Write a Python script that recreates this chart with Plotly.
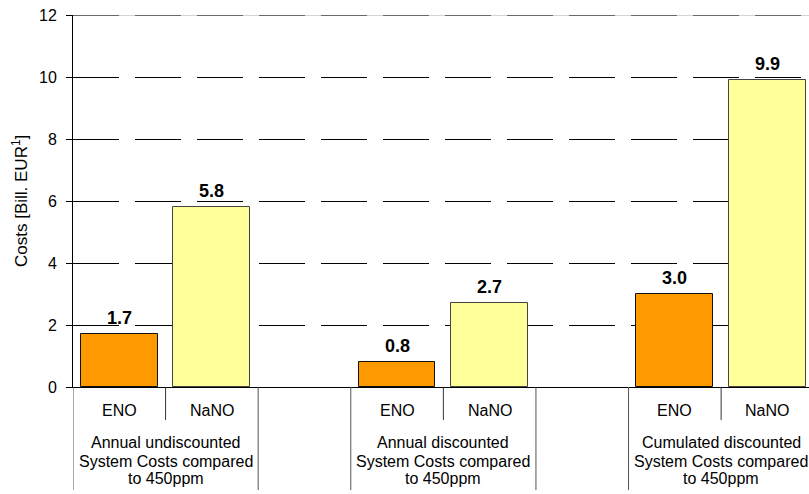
import plotly.graph_objects as go

# Cost comparison data (billion EUR)
groups = [
    ["Annual undiscounted", "System Costs compared", "to 450ppm"],
    ["Annual discounted", "System Costs compared", "to 450ppm"],
    ["Cumulated discounted", "System Costs compared", "to 450ppm"],
]
scenarios = ["ENO", "NaNO"]
eno_values = [1.7, 0.8, 3.0]
nano_values = [5.8, 2.7, 9.9]
y_ticks = [0, 2, 4, 6, 8, 10, 12]

ENO_COLOR = "#FF9900"
NANO_COLOR = "#FFFF99"
FONT = "Liberation Sans, Arial, sans-serif"
DASH = "46px,16px"

# each group occupies three slots: ENO, NaNO, and a spacer
eno_x = [3 * i for i in range(len(groups))]
nano_x = [3 * i + 1 for i in range(len(groups))]

fig = go.Figure()
fig.add_trace(go.Bar(
    x=eno_x, y=eno_values, width=0.83, name="ENO",
    marker=dict(color=ENO_COLOR, line=dict(color="#111111", width=1)),
))
fig.add_trace(go.Bar(
    x=nano_x, y=nano_values, width=0.83, name="NaNO",
    marker=dict(color=NANO_COLOR, line=dict(color="#444444", width=1)),
))

annotations = []
# value labels above bars
for xs, vals in ((eno_x, eno_values), (nano_x, nano_values)):
    for x, v in zip(xs, vals):
        annotations.append(dict(
            x=x, y=v, xref="x", yref="y", text=f"<b>{v:.1f}</b>",
            showarrow=False, yanchor="bottom", yshift=4,
            font=dict(family=FONT, size=18, color="#000000"),
        ))

# scenario and group labels under the axis
line_y = [-0.1505, -0.199, -0.247]
for gi, lines in enumerate(groups):
    for si, name in enumerate(scenarios):
        annotations.append(dict(
            x=3 * gi + si, y=-0.062, xref="x", yref="paper", text=name,
            showarrow=False, yanchor="middle",
            font=dict(family=FONT, size=16, color="#000000"),
        ))
    for ly, txt in zip(line_y, lines):
        annotations.append(dict(
            x=3 * gi + 0.5, y=ly, xref="x", yref="paper", text=txt,
            showarrow=False, yanchor="middle",
            font=dict(family=FONT, size=16, color="#000000"),
        ))

# y-axis title
annotations.append(dict(
    x=0, y=0.5, xref="paper", yref="paper", xshift=-53,
    text="Costs [Bill. EUR<sup>1</sup>]", textangle=-90, showarrow=False,
    xanchor="center", yanchor="middle",
    font=dict(family=FONT, size=17, color="#000000"),
))

# category divider lines below the axis
shapes = []
for b in [-0.5, 1.5, 2.5, 4.5, 5.5, 7.5]:
    shapes.append(dict(type="line", xref="x", yref="paper", x0=b, x1=b,
                       y0=0, y1=-0.277, line=dict(color="#555555", width=1)))
for b in [0.5, 3.5, 6.5]:
    shapes.append(dict(type="line", xref="x", yref="paper", x0=b, x1=b,
                       y0=0, y1=-0.089, line=dict(color="#333333", width=1)))
# top border: faint solid line with the dashed grid pattern on top
shapes.append(dict(type="line", xref="paper", yref="y", x0=0, x1=1, y0=12, y1=12,
                   line=dict(color="#aaaaaa", width=1)))
shapes.append(dict(type="line", xref="paper", yref="y", x0=0, x1=1, y0=12, y1=12,
                   line=dict(color="#000000", width=1, dash=DASH)))

fig.update_layout(
    width=809, height=494,
    margin=dict(l=73, r=0, t=15, b=107),
    paper_bgcolor="white", plot_bgcolor="white",
    showlegend=False, bargap=0,
    annotations=annotations, shapes=shapes,
    xaxis=dict(
        range=[-0.5, 7.449], showticklabels=False, showgrid=False,
        zeroline=False, showline=True, linecolor="#000000", linewidth=1,
        ticks="", fixedrange=True,
    ),
    yaxis=dict(
        range=[0, 12], tickvals=y_ticks, ticktext=[str(t) for t in y_ticks],
        showgrid=True, gridcolor="#000000", gridwidth=1, griddash=DASH,
        zeroline=False, showline=True, linecolor="#000000", linewidth=1,
        ticks="outside", ticklen=6, tickcolor="#000000",
        tickfont=dict(family=FONT, size=16, color="#000000"),
        ticklabelstandoff=6,
    ),
)

fig.write_html("out.html")
